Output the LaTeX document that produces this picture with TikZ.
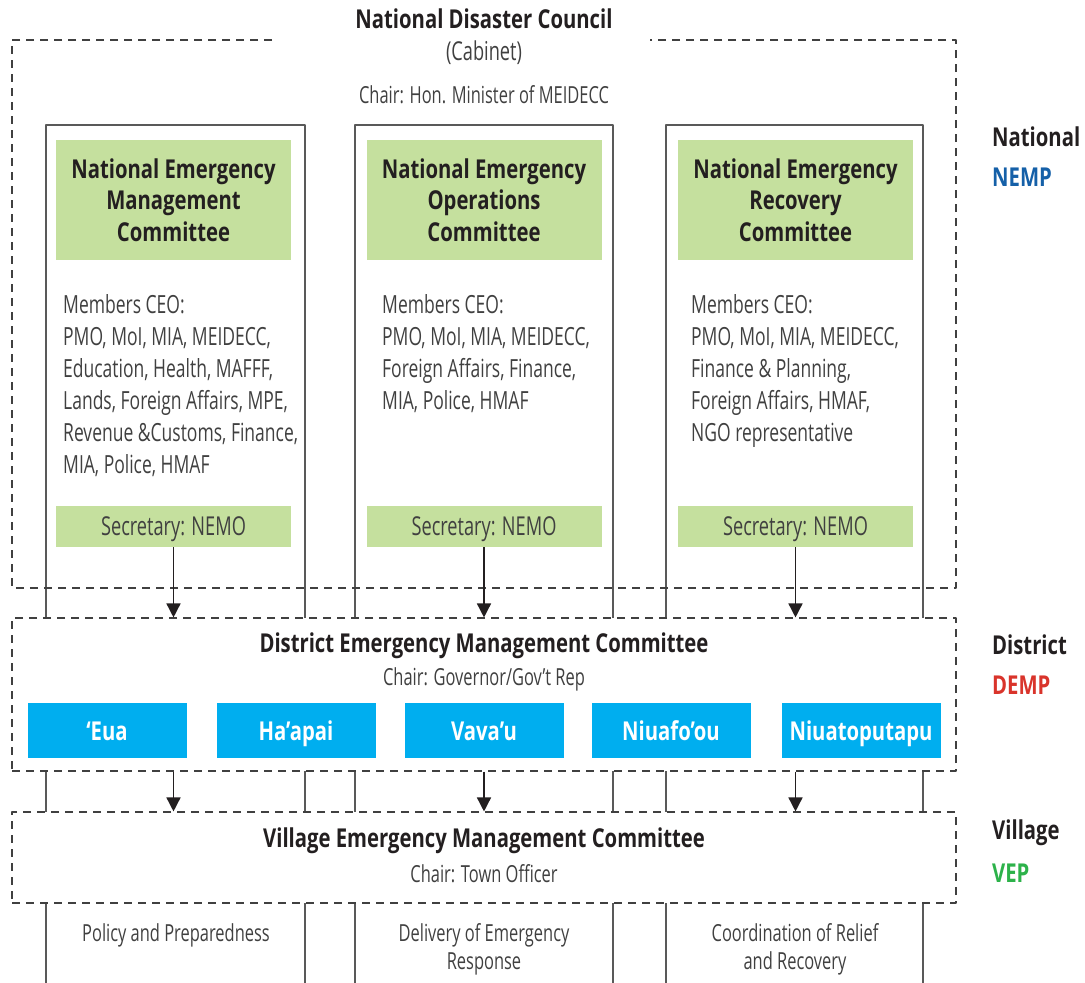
\documentclass[tikz,border=0pt]{standalone}
\usepackage{fontspec}
\setmainfont{Open Sans}[FakeStretch=0.70, BoldFeatures={FakeStretch=0.78}]
\usetikzlibrary{arrows.meta,positioning}
\definecolor{leaf}{HTML}{C5E09E}
\definecolor{sky}{HTML}{00AEEF}
\definecolor{ink}{HTML}{231F20}
\definecolor{soft}{HTML}{404040}
\definecolor{nempblue}{HTML}{1560A8}
\definecolor{dempred}{HTML}{D9342B}
\definecolor{vepgreen}{HTML}{2DB24A}

\begin{document}
\begin{tikzpicture}[x=1pt,y=-1pt,>={Triangle[width=14pt,length=14pt]},
  line join=round,
  dashbox/.style={draw=soft, line width=1.1pt, dash pattern=on 8pt off 6pt},
  colline/.style={draw=gray!70!black, line width=1.1pt},
  headbox/.style={fill=leaf, minimum width=235pt, minimum height=120pt, inner sep=0pt,
    text=ink, align=center, font=\bfseries\fontsize{26}{31.5}\selectfont},
  secbox/.style={fill=leaf, minimum width=235pt, minimum height=41pt, inner sep=0pt,
    text height=19pt, text depth=0.5pt, text=soft, font=\fontsize{26}{28}\selectfont},
  members/.style={anchor=north west, inner sep=0pt, align=left, text=soft,
    font=\fontsize{25}{32}\selectfont},
  isle/.style={fill=sky, minimum width=159pt, minimum height=55pt, inner sep=0pt,
    text height=19pt, text depth=0pt, text=white, font=\bfseries\fontsize{26}{28}\selectfont},
  title/.style={text=ink, font=\bfseries\fontsize{26}{28}\selectfont},
  chair/.style={text=soft, font=\fontsize{23.5}{26}\selectfont},
  task/.style={text=soft, align=center, font=\fontsize{23.5}{28}\selectfont},
  level/.style={anchor=west, inner sep=0pt, font=\bfseries\fontsize{26}{28}\selectfont},
  link/.style={->, draw=ink, line width=1.5pt}]
\useasboundingbox (0,0) rectangle (1085,983);

% columns
\foreach \l/\r in {46/305, 355/613, 666/923}
  \draw[colline] (\l,990) -- (\l,125) -- (\r,125) -- (\r,990);

% national level
\draw[dashbox] (272,40) -- (12,40) -- (12,588) -- (956,588) -- (956,40) -- (650,40);
\node[title] (ndc) at (484,19) {National Disaster Council};
\node[chair, font=\fontsize{26}{28}\selectfont] (cab) at (484,53) {(Cabinet)};
\node[chair] (ndcchair) at (484,95) {Chair: Hon. Minister of MEIDECC};

\node[headbox] (nemc) at (173.5,200) {National Emergency\\Management\\Committee};
\node[headbox] (neoc) at (484,200) {National Emergency\\Operations\\Committee};
\node[headbox] (nerc) at (795.5,200) {National Emergency\\Recovery\\Committee};

\node[members] (memc) at (63,294) {Members CEO:\\PMO, MoI, MIA, MEIDECC,\\Education, Health, MAFFF,\\Lands, Foreign Affairs, MPE,\\Revenue \&Customs, Finance,\\MIA, Police, HMAF};
\node[members] (meoc) at (382,294) {Members CEO:\\PMO, MoI, MIA, MEIDECC,\\Foreign Affairs, Finance,\\MIA, Police, HMAF};
\node[members] (merc) at (691,294) {Members CEO:\\PMO, MoI, MIA, MEIDECC,\\Finance \& Planning,\\Foreign Affairs, HMAF,\\NGO representative};

\node[secbox] (semc) at (173.5,526.5) {Secretary: NEMO};
\node[secbox] (seoc) at (484,526.5) {Secretary: NEMO};
\node[secbox] (serc) at (795.5,526.5) {Secretary: NEMO};

% district level
\node[dashbox, fill=white, minimum width=944pt, minimum height=153pt, inner sep=0pt] (demc) at (484,694.5) {};
\node[title] (demctitle) at (484,646) {District Emergency Management Committee};
\node[chair] (demcchair) at (484,679) {Chair: Governor/Gov’t Rep};
\node[isle] (eua) at (107,730.5) {‘Eua};
\node[isle] (haapai) at (296,730.5) {Ha’apai};
\node[isle] (vavau) at (484,730.5) {Vava’u};
\node[isle] (niuafoou) at (671,730.5) {Niuafo’ou};
\node[isle] (niuato) at (861,730.5) {Niuatoputapu};

% village level
\node[dashbox, fill=white, minimum width=944pt, minimum height=91pt, inner sep=0pt] (vemc) at (484,857.5) {};
\node[title] (vemctitle) at (484,841) {Village Emergency Management Committee};
\node[chair] (vemcchair) at (484,874) {Chair: Town Officer};

\foreach \s in {semc, seoc, serc} {
  \draw[link] (\s.south) -- (\s.south |- demc.north);
  \draw[link] (\s.south |- demc.south) -- (\s.south |- vemc.north);
}

% tasks
\node[task] (policy) at (176,935) {Policy and Preparedness};
\node[task] (delivery) at (484,949) {Delivery of Emergency\\Response};
\node[task] (coord) at (795,949) {Coordination of Relief\\and Recovery};

% level labels
\node[level, text=ink] (lnat) at (992,137) {National};
\node[level, text=nempblue] (lnemp) at (992,177) {NEMP};
\node[level, text=ink] (ldis) at (992,645) {District};
\node[level, text=dempred] (ldemp) at (992,685) {DEMP};
\node[level, text=ink] (lvil) at (992,833) {Village};
\node[level, text=vepgreen] (lvep) at (992,873) {VEP};
\end{tikzpicture}
\end{document}
